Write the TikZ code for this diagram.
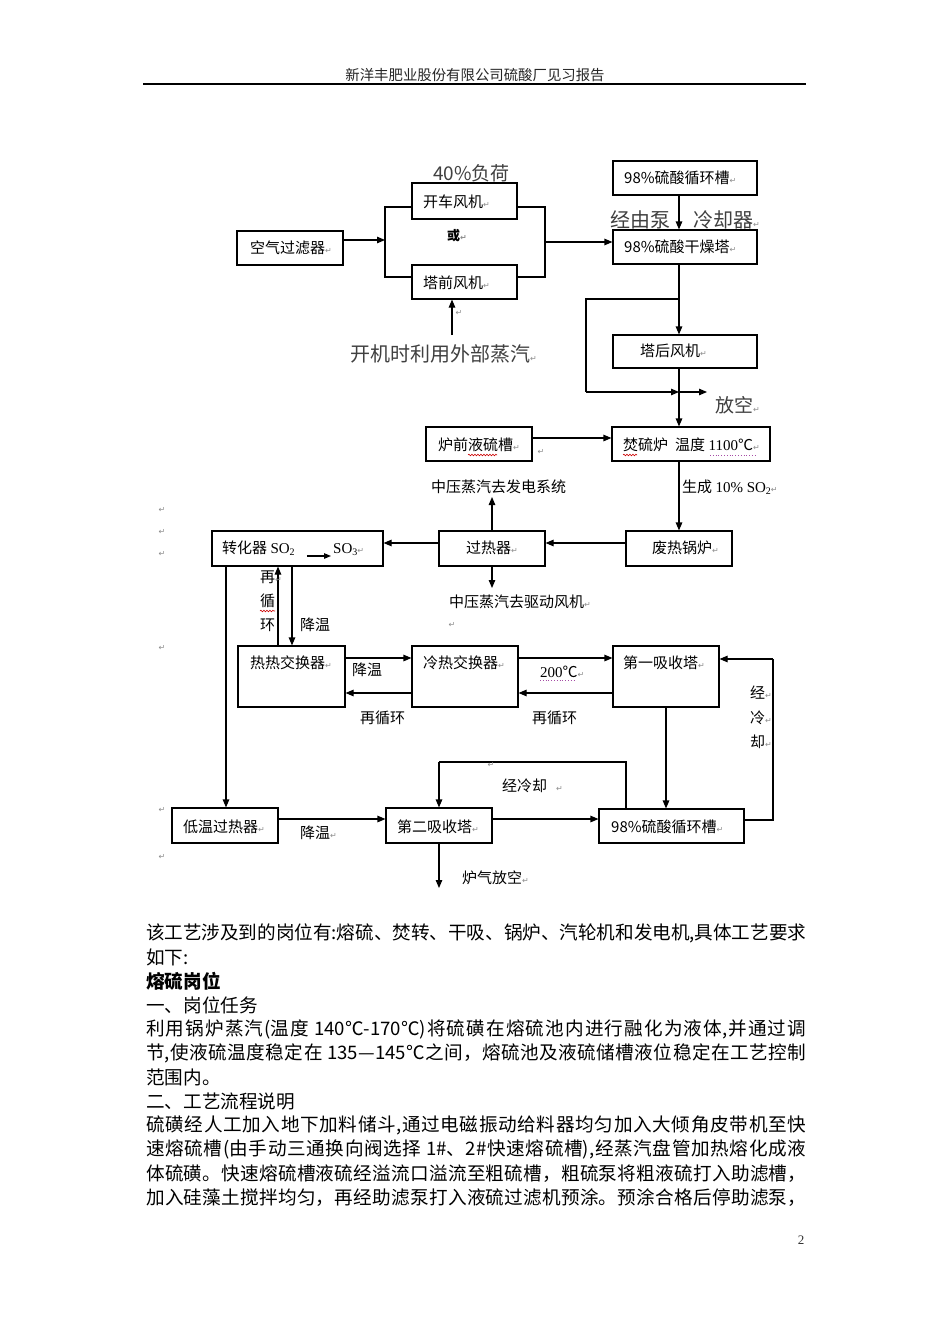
\documentclass[tikz,border=0pt]{standalone}
\usepackage{fontspec}
\setmainfont{Noto Sans CJK SC}
\newfontfamily\djv{DejaVu Sans}
\newfontfamily\tms{Liberation Serif}
\usetikzlibrary{arrows.meta,decorations.pathmorphing}
\XeTeXlinebreaklocale "zh"
\XeTeXlinebreakskip=0pt plus 3pt minus 0.6pt
\newcommand\rtn{{\djv\fontsize{8}{8}\selectfont\color{black!45}↵}}
\newcommand\subs[1]{\raisebox{-2.5pt}{\fontsize{10}{10}\selectfont #1}}
\newcommand\jline[1]{\parbox{660pt}{\fontsize{18.6}{18.6}\selectfont\parfillskip=0pt\relax #1}}
\newcommand\nline[1]{{\fontsize{18.6}{18.6}\selectfont #1}}
\tikzset{
  box/.style={draw, line width=1.1pt, inner sep=0pt},
  bt/.style={anchor=west, inner sep=0pt, font=\fontsize{15}{15}\selectfont},
  big/.style={anchor=west, inner sep=0pt, font=\fontsize{20}{20}\selectfont, text=black!75},
  mk/.style={inner sep=0pt},
  ln/.style={line width=1.1pt},
  arr/.style={line width=1.1pt, -{Triangle[length=8pt,width=6.5pt]}},
  body/.style={anchor=west, inner sep=0pt},
  spell/.style={red!80!black, line width=0.6pt, decorate, decoration={snake, amplitude=0.8pt, segment length=3pt}},
  gram/.style={violet!70, line width=0.8pt, dotted}
}
\begin{document}
\begin{tikzpicture}[x=1pt,y=-1pt]
\fill[white] (0,0) rectangle (950,1344);
\useasboundingbox (0,0) rectangle (950,1344);

% header
\node[inner sep=0pt, font=\fontsize{14.4}{14.4}\selectfont, text=black!85] (hdr) at (475,75) {新洋丰肥业股份有限公司硫酸厂见习报告};
\draw[line width=1.3pt] (143,84) -- (806,84);

% ---------- top section ----------
\node[box, minimum width=106pt, minimum height=34pt] (air) at (290,248) {};
\node[bt] (airT) at (250,248) {空气过滤器\rtn};
\node[box, minimum width=105pt, minimum height=36pt] (kc) at (464.5,201) {};
\node[bt] (kcT) at (423,202) {开车风机\rtn};
\node[box, minimum width=105pt, minimum height=34pt] (tq) at (464.5,282) {};
\node[bt] (tqT) at (423,283) {塔前风机\rtn};
\node[big, font=\fontsize{19}{19}\selectfont] (fh) at (433,173) {40\%负荷};
\node[bt, font=\fontsize{13}{13}\selectfont\bfseries] (huo) at (447,236) {或\rtn};
\node[big] (kj) at (350,354) {开机时利用外部蒸汽\rtn};
\node[mk] (m1) at (459,313) {\rtn};

\coordinate (jL) at (385,240);
\coordinate (jTop) at (385,207);
\coordinate (jBot) at (385,277);
\coordinate (jTopR) at (545,207);
\coordinate (jBotR) at (545,277);
\coordinate (jMidR) at (545,242);
\coordinate (kjTop) at (452,335);
\draw[arr] (air.east |- jL) -- (jL);
\draw[ln] (kc.west |- jTop) -- (jTop) -- (jBot) -- (tq.west |- jBot);
\draw[ln] (kc.east |- jTopR) -- (jTopR) -- (jBotR) -- (tq.east |- jBotR);
\draw[arr] (kjTop) -- (tq.south -| kjTop);

% right column
\node[box, minimum width=144pt, minimum height=34pt] (tank1) at (685,178) {};
\node[bt] (tank1T) at (624,178) {98\%硫酸循环槽\rtn};
\node[box, minimum width=144pt, minimum height=34pt] (dry) at (685,247) {};
\node[bt] (dryT) at (624,247) {98\%硫酸干燥塔\rtn};
\node[big] (jyb) at (610,220) {经由泵};
\node[big] (lqq) at (693,220) {冷却器\rtn};
\node[box, minimum width=144pt, minimum height=33pt] (th) at (685,351.5) {};
\node[bt] (thT) at (640,351) {塔后风机\rtn};
\node[big, font=\fontsize{19}{19}\selectfont] (fk) at (715,405) {放空\rtn};
\draw[arr] (jMidR) -- (dry.west |- jMidR);

\coordinate (colx) at (679,0);
\coordinate (brA) at (679,299);
\coordinate (brB) at (586,299);
\coordinate (brC) at (586,392);
\coordinate (brD) at (679,392);
\coordinate (vent) at (707,392);
\draw[arr] (tank1.south -| colx) -- (dry.north -| colx);
\draw[ln] (dry.south -| colx) -- (brA);
\draw[arr] (brA) -- (th.north -| colx);
\draw[ln] (brA) -- (brB) -- (brC);
\draw[arr] (brC) -- (brD);
\draw[arr] (brD) -- (vent);

% ---------- middle section ----------
\node[box, minimum width=106pt, minimum height=34pt] (lqy) at (479,444) {};
\node[bt] (lqyT) at (438,445) {炉前液硫槽\rtn};
\node[mk] (m2) at (541,452) {\rtn};
\node[box, minimum width=158pt, minimum height=34pt] (burner) at (691,444) {};
\node[bt] (burnerT) at (623,445) {焚硫炉\hspace{7pt}温度 {\tms 1100}℃\rtn};
\coordinate (lq) at (0,438);
\draw[arr] (lqy.east |- lq) -- (burner.west |- lq);
\draw[arr] (th.south -| colx) -- (burner.north -| colx);
\draw[spell] (468,455) -- (497,455);
\draw[spell] (623,455) -- (637,455);
\draw[gram] (710,455) -- (757,455);

\node[box, minimum width=106pt, minimum height=35pt] (fr) at (679,548.5) {};
\node[bt] (frT) at (652,548) {废热锅炉\rtn};
\draw[arr] (burner.south -| colx) -- (fr.north -| colx);
\node[bt] (sc) at (682,487) {生成 {\tms 10\% SO\subs{2}}\rtn};

\node[box, minimum width=106pt, minimum height=35pt] (grq) at (492,548.5) {};
\node[bt] (grqT) at (466,548) {过热器\rtn};
\coordinate (hrow) at (0,543);
\draw[arr] (fr.west |- hrow) -- (grq.east |- hrow);
\node[bt] (fd) at (431,487) {中压蒸汽去发电系统};
\coordinate (upT) at (492,497);
\draw[arr] (grq.north -| upT) -- (upT);
\node[bt] (qd) at (449,602) {中压蒸汽去驱动风机\rtn};
\coordinate (dnT) at (492,588);
\draw[arr] (grq.south -| dnT) -- (dnT);

\node[box, minimum width=171pt, minimum height=35pt] (zh) at (297.5,548.5) {};
\draw[arr] (grq.west |- hrow) -- (zh.east |- hrow);
\node[bt, anchor=base west] (zhA) at (222,553) {转化器 {\tms SO\subs{2}}};
\node[bt, anchor=base west] (zhB) at (333,553) {{\tms SO\subs{3}}\rtn};
\coordinate (zy) at (0,556);
\draw[line width=1.2pt, -{Triangle[length=7pt,width=5.5pt]}] ([xshift=12pt]zhA.east |- zy) -- ([xshift=-2pt]zhB.west |- zy);

\node[mk] (m3) at (162,510) {\rtn};
\node[mk] (m4) at (162,532) {\rtn};
\node[mk] (m5) at (162,554) {\rtn};
\node[mk] (m6) at (162,648) {\rtn};
\node[mk] (m7) at (452,625) {\rtn};

% ---------- exchangers ----------
\node[box, minimum width=107pt, minimum height=61pt] (hh) at (291.5,676.5) {};
\node[bt] (hhT) at (250,663) {热热交换器\rtn};
\node[box, minimum width=106pt, minimum height=61pt] (lr) at (465,676.5) {};
\node[bt] (lrT) at (423,663) {冷热交换器\rtn};
\node[box, minimum width=106pt, minimum height=61pt] (xs1) at (666,676.5) {};
\node[bt] (xs1T) at (623,663) {第一吸收塔\rtn};

\coordinate (c1) at (226,0);
\coordinate (c2) at (278,0);
\coordinate (c3) at (292,0);
\draw[arr] (hh.north -| c2) -- (zh.south -| c2);
\draw[arr] (zh.south -| c3) -- (hh.north -| c3);
\node[bt] (zx1) at (260,577) {再\rtn};
\node[bt] (zx2) at (260,601) {循};
\node[bt] (zx3) at (260,625) {环};
\draw[spell] (260,611) -- (275,611);
\node[bt] (jw1) at (300,625) {降温};

\coordinate (r1) at (0,658);
\coordinate (r2) at (0,693);
\draw[arr] (hh.east |- r1) -- (lr.west |- r1);
\draw[arr] (lr.west |- r2) -- (hh.east |- r2);
\draw[arr] (lr.east |- r1) -- (xs1.west |- r1);
\draw[arr] (xs1.west |- r2) -- (lr.east |- r2);
\node[bt] (jw2) at (352,670) {降温};
\node[bt] (t200) at (540,672) {{\tms 200}℃\rtn};
\draw[gram] (540,680) -- (574,680);
\node[bt] (zxh1) at (360,718) {再循环};
\node[bt] (zxh2) at (532,718) {再循环};

% ---------- bottom ----------
\node[box, minimum width=106pt, minimum height=35pt] (dw) at (225,825.5) {};
\node[bt] (dwT) at (183,827) {低温过热器\rtn};
\node[box, minimum width=106pt, minimum height=35pt] (xs2) at (439,825.5) {};
\node[bt] (xs2T) at (397,827) {第二吸收塔\rtn};
\node[box, minimum width=145pt, minimum height=34pt] (tank2) at (671.5,826) {};
\node[bt] (tank2T) at (611,827) {98\%硫酸循环槽\rtn};

\draw[arr] (zh.south -| c1) -- (dw.north -| c1);
\coordinate (b1) at (0,819);
\draw[arr] (dw.east |- b1) -- (xs2.west |- b1);
\draw[arr] (xs2.east |- b1) -- (tank2.west |- b1);
\node[bt] (jw3) at (300,833) {降温\rtn};

\coordinate (lpR) at (626,762);
\coordinate (lpL) at (439,762);
\draw[ln] (tank2.north -| lpR) -- (lpR) -- (lpL);
\draw[arr] (lpL) -- (xs2.north -| lpL);
\node[bt] (jlq) at (502,786) {经冷却\hspace{9pt}\rtn};
\node[mk] (m8) at (491,765) {\rtn};

\coordinate (c4) at (666,0);
\draw[arr] (xs1.south -| c4) -- (tank2.north -| c4);
\coordinate (rl1) at (773,820);
\coordinate (rl2) at (773,659);
\draw[ln] (tank2.east |- rl1) -- (rl1) -- (rl2);
\draw[arr] (rl2) -- (xs1.east |- rl2);
\node[bt] (jl1) at (750,693) {经\rtn};
\node[bt] (jl2) at (750,718) {冷\rtn};
\node[bt] (jl3) at (750,742) {却\rtn};

\coordinate (ventB) at (439,888);
\draw[arr] (xs2.south -| ventB) -- (ventB);
\node[bt] (lqfk) at (462,878) {炉气放空\rtn};
\node[mk] (m9) at (162,810) {\rtn};
\node[mk] (m10) at (162,857) {\rtn};

% ---------- body text ----------
\node[body] (l1) at (146,933) {\jline{该工艺涉及到的岗位有:熔硫、焚转、干吸、锅炉、汽轮机和发电机,具体工艺要求}};
\node[body] (l2) at (146,957.1) {\nline{如下:}};
\node[body] (l3) at (146,981.2) {\nline{\bfseries 熔硫岗位}};
\node[body] (l4) at (146,1005.3) {\nline{一、岗位任务}};
\node[body] (l5) at (146,1029.4) {\jline{利用锅炉蒸汽(温度 140℃-170℃)将硫磺在熔硫池内进行融化为液体,并通过调}};
\node[body] (l6) at (146,1053.5) {\jline{节,使液硫温度稳定在 135—145℃之间，熔硫池及液硫储槽液位稳定在工艺控制}};
\node[body] (l7) at (146,1077.6) {\nline{范围内。}};
\node[body] (l8) at (146,1101.7) {\nline{二、工艺流程说明}};
\node[body] (l9) at (146,1125.8) {\jline{硫磺经人工加入地下加料储斗,通过电磁振动给料器均匀加入大倾角皮带机至快}};
\node[body] (l10) at (146,1149.9) {\jline{速熔硫槽(由手动三通换向阀选择 1\#、2\#快速熔硫槽),经蒸汽盘管加热熔化成液}};
\node[body] (l11) at (146,1174) {\jline{体硫磺。快速熔硫槽液硫经溢流口溢流至粗硫槽，粗硫泵将粗液硫打入助滤槽，}};
\node[body] (l12) at (146,1198.1) {\jline{加入硅藻土搅拌均匀，再经助滤泵打入液硫过滤机预涂。预涂合格后停助滤泵，}};

\node[inner sep=0pt, font=\fontsize{13}{13}\selectfont\tms, text=black!80] (pg) at (801,1240) {2};
\end{tikzpicture}
\end{document}
